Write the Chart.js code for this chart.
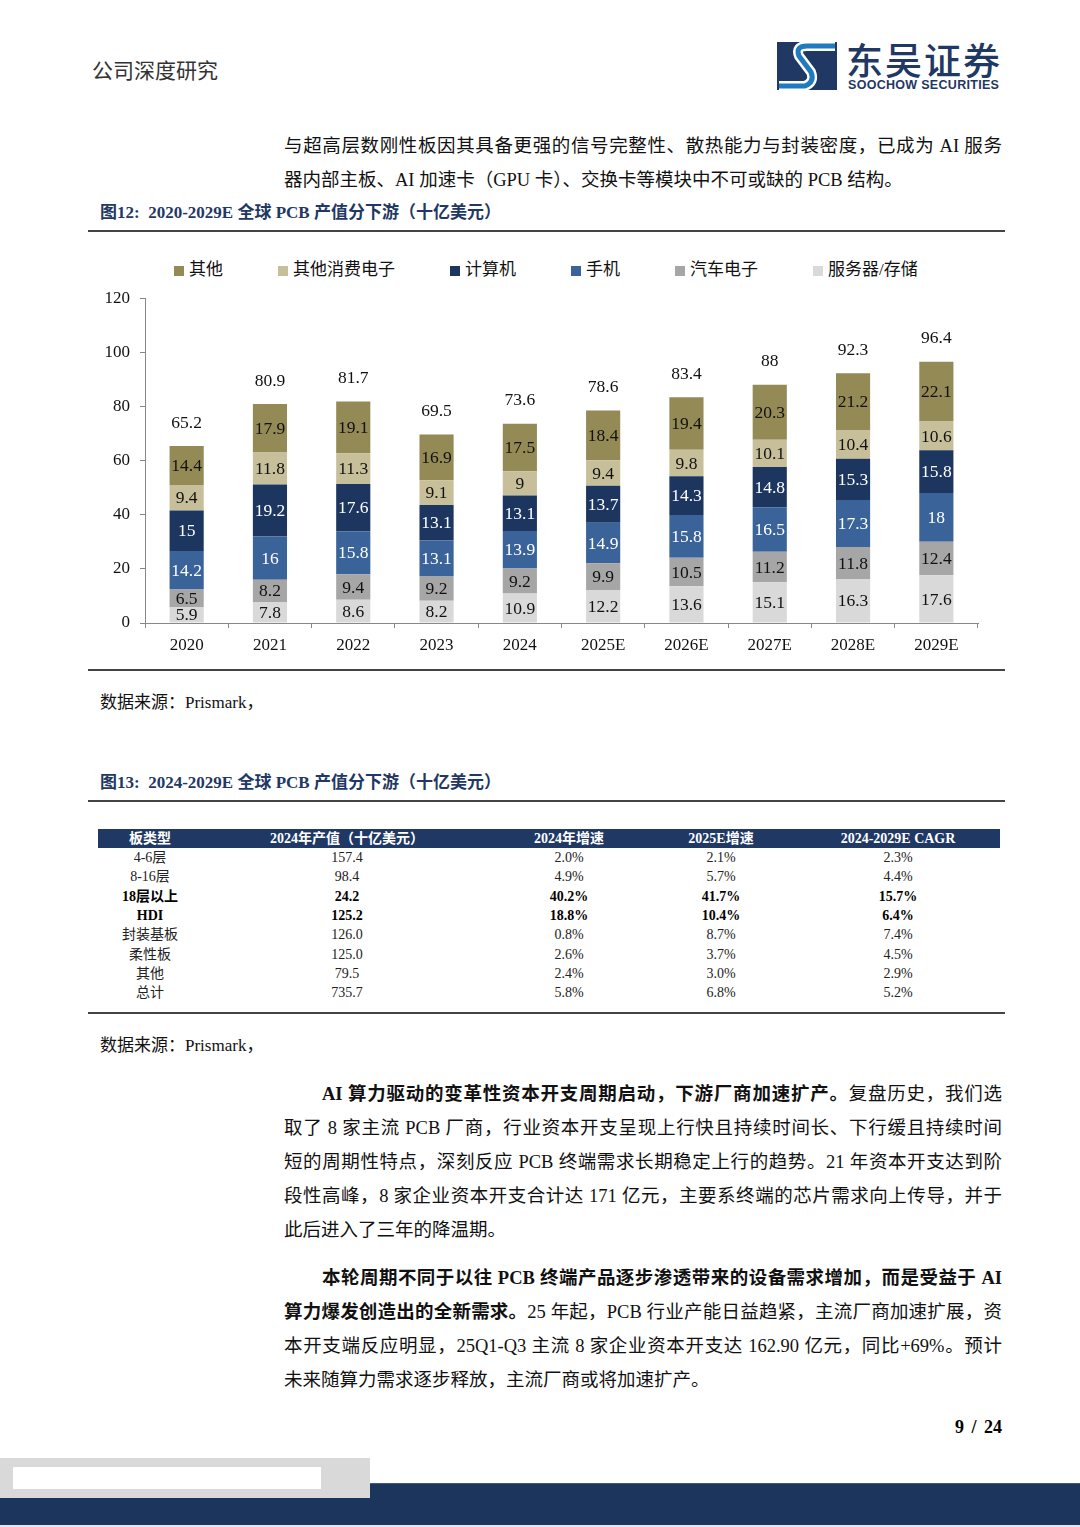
<!DOCTYPE html>
<html lang="zh-CN">
<head>
<meta charset="utf-8">
<title>图12: 2020-2029E 全球 PCB 产值分下游</title>
<script src="https://cdn.jsdelivr.net/npm/chart.js@4.4.1/dist/chart.umd.min.js"></script>
<style>
  html, body { margin: 0; padding: 0; background: #fff; }
  body { width: 1080px; height: 1527px; position: relative; overflow: hidden;
         font-family: "Liberation Serif", "Noto Sans CJK SC", serif; color: #000; }
  .abs { position: absolute; }
  .hdr { left: 92px; top: 57px; font-size: 21px; line-height: 28px; color: #333; }
  .para { left: 284px; width: 718px; font-size: 18.5px; color: #111; }
  .para div { height: 34px; line-height: 34px; text-align: justify; text-align-last: justify; }
  .para div.last { text-align-last: left; }
  .para div.ind { padding-left: 38px; }
  .figt { left: 100px; font-size: 17px; font-weight: bold; color: #1f3864; line-height: 24px; }
  .rule { left: 88px; width: 917px; height: 1.5px; background: #444; }
  .src { left: 100px; font-size: 17px; line-height: 24px; color: #111; }
  #legend { left: 174px; top: 258px; display: flex; gap: 55px; font-size: 17px; line-height: 24px; color: #111; }
  #legend span.box { display: inline-block; width: 10px; height: 10px; margin-right: 5px; vertical-align: -1px; }
  #chartBox { left: 88px; top: 278px; width: 917px; height: 386px; }
  table { border-collapse: collapse; table-layout: fixed; font-size: 14px; }
  #tbl { left: 98px; top: 829px; width: 902px; }
  #tbl th { background: #1f3864; color: #fff; height: 19px; padding: 0; font-weight: bold; line-height: 19px; }
  #tbl td { height: 19.3px; padding: 0; text-align: center; line-height: 19px; color: #222; }
  #tbl tr.b td { font-weight: bold; color: #000; }
  .pg { right: 78px; top: 1415px; font-size: 18px; font-weight: bold; line-height: 24px; word-spacing: 3px; }
</style>
</head>
<body>

<!-- 页眉 -->
<div class="abs hdr">公司深度研究</div>
<svg class="abs" style="left:777px;top:42px" width="60" height="48" viewBox="0 0 60 48">
  <rect x="0" y="0" width="60" height="48" fill="#1f3864"/>
  <path d="M58 4 L30 4 Q18 4 22 14 L34 30 Q38 40 28 44 L2 44" fill="none" stroke="#fff" stroke-width="10"/>
  <path d="M58 4 L30 4 Q18 4 22 14 L34 30 Q38 40 28 44 L2 44" fill="none" stroke="#1f7ac0" stroke-width="5"/>
</svg>
<div class="abs" style="left:846px;top:38px;font-family:'Noto Sans CJK SC';font-size:37px;line-height:42px;color:#1f3864;font-weight:500;letter-spacing:2px">东吴证券</div>
<div class="abs" style="left:848px;top:77px;font-family:'Liberation Sans';font-size:12.5px;line-height:16px;font-weight:bold;color:#1f3864;letter-spacing:0.3px">SOOCHOW SECURITIES</div>

<!-- 正文(上) -->
<div class="abs para" style="top:129px">
  <div>与超高层数刚性板因其具备更强的信号完整性、散热能力与封装密度，已成为 AI 服务</div>
  <div class="last">器内部主板、AI 加速卡（GPU 卡）、交换卡等模块中不可或缺的 PCB 结构。</div>
</div>

<!-- 图12 -->
<div class="abs figt" style="top:201px">图12:&nbsp; 2020-2029E 全球 PCB 产值分下游（十亿美元）</div>
<div class="abs rule" style="top:230px"></div>
<div class="abs" id="legend"></div>
<div class="abs" id="chartBox"><canvas id="grafico"></canvas></div>
<div class="abs rule" style="top:669px"></div>
<div class="abs src" style="top:691px">数据来源：Prismark，</div>

<!-- 图13 -->
<div class="abs figt" style="top:771px">图13:&nbsp; 2024-2029E 全球 PCB 产值分下游（十亿美元）</div>
<div class="abs rule" style="top:800px"></div>
<table class="abs" id="tbl">
  <colgroup><col style="width:104px"><col style="width:290px"><col style="width:154px"><col style="width:150px"><col style="width:204px"></colgroup>
  <thead><tr><th>板类型</th><th>2024年产值（十亿美元）</th><th>2024年增速</th><th>2025E增速</th><th>2024-2029E CAGR</th></tr></thead>
  <tbody id="tbody"></tbody>
</table>
<div class="abs rule" style="top:1012px"></div>
<div class="abs src" style="top:1034px">数据来源：Prismark，</div>

<!-- 正文(下) -->
<div class="abs para" style="top:1077px">
  <div class="ind"><b>AI 算力驱动的变革性资本开支周期启动，下游厂商加速扩产。</b>复盘历史，我们选</div>
  <div>取了 8 家主流 PCB 厂商，行业资本开支呈现上行快且持续时间长、下行缓且持续时间</div>
  <div>短的周期性特点，深刻反应 PCB 终端需求长期稳定上行的趋势。21 年资本开支达到阶</div>
  <div>段性高峰，8 家企业资本开支合计达 171 亿元，主要系终端的芯片需求向上传导，并于</div>
  <div class="last">此后进入了三年的降温期。</div>
</div>
<div class="abs para" style="top:1261px">
  <div class="ind"><b>本轮周期不同于以往 PCB 终端产品逐步渗透带来的设备需求增加，而是受益于 AI</b></div>
  <div><b>算力爆发创造出的全新需求。</b>25 年起，PCB 行业产能日益趋紧，主流厂商加速扩展，资</div>
  <div>本开支端反应明显，25Q1-Q3 主流 8 家企业资本开支达 162.90 亿元，同比+69%。预计</div>
  <div class="last">未来随算力需求逐步释放，主流厂商或将加速扩产。</div>
</div>

<div class="abs pg">9 / 24</div>

<!-- 页脚 -->
<div class="abs" style="left:0;top:1483px;width:1080px;height:42px;background:#1b355d;border-top:1px solid #3b5d8a"></div>
<div class="abs" style="left:0;top:1525px;width:1080px;height:2px;background:#dce7f1"></div>
<div class="abs" style="left:0;top:1458px;width:370px;height:40px;background:#d9d9d9"></div>
<div class="abs" style="left:13px;top:1467px;width:308px;height:22px;background:#fff"></div>

<script>
// ================= 数据 =================
const anos = ['2020', '2021', '2022', '2023', '2024', '2025E', '2026E', '2027E', '2028E', '2029E'];

const servidor   = [5.9, 7.8, 8.6, 8.2, 10.9, 12.2, 13.6, 15.1, 16.3, 17.6];
const automovel  = [6.5, 8.2, 9.4, 9.2, 9.2, 9.9, 10.5, 11.2, 11.8, 12.4];
const telemovel  = [14.2, 16, 15.8, 13.1, 13.9, 14.9, 15.8, 16.5, 17.3, 18];
const computador = [15, 19.2, 17.6, 13.1, 13.1, 13.7, 14.3, 14.8, 15.3, 15.8];
const outrosCons = [9.4, 11.8, 11.3, 9.1, 9, 9.4, 9.8, 10.1, 10.4, 10.6];
const outros     = [14.4, 17.9, 19.1, 16.9, 17.5, 18.4, 19.4, 20.3, 21.2, 22.1];
const totais     = [65.2, 80.9, 81.7, 69.5, 73.6, 78.6, 83.4, 88, 92.3, 96.4];

// 由下往上堆叠
const nomes   = ['服务器/存储', '汽车电子', '手机', '计算机', '其他消费电子', '其他'];
const series  = [servidor, automovel, telemovel, computador, outrosCons, outros];
const cores   = ['#d9d9d9', '#a6a6a6', '#3a6399', '#1c365f', '#c6bf9a', '#948a55'];
const corTexto = ['#111', '#111', '#fff', '#fff', '#111', '#111'];

const yMin = 0, yMax = 120, yStep = 20;

// 表格数据
const tabTipos  = ['4-6层', '8-16层', '18层以上', 'HDI', '封装基板', '柔性板', '其他', '总计'];
const tabValor  = ['157.4', '98.4', '24.2', '125.2', '126.0', '125.0', '79.5', '735.7'];
const tabCresc24 = ['2.0%', '4.9%', '40.2%', '18.8%', '0.8%', '2.6%', '2.4%', '5.8%'];
const tabCresc25 = ['2.1%', '5.7%', '41.7%', '10.4%', '8.7%', '3.7%', '3.0%', '6.8%'];
const tabCagr   = ['2.3%', '4.4%', '15.7%', '6.4%', '7.4%', '4.5%', '2.9%', '5.2%'];
const tabNegrito = ['18层以上', 'HDI'];

// ================= 表格 =================
const tbody = document.getElementById('tbody');
tabTipos.forEach((t, i) => {
  const tr = document.createElement('tr');
  if (tabNegrito.includes(t)) tr.className = 'b';
  [t, tabValor[i], tabCresc24[i], tabCresc25[i], tabCagr[i]].forEach(v => {
    const td = document.createElement('td');
    td.textContent = v;
    tr.appendChild(td);
  });
  tbody.appendChild(tr);
});

// ================= 图例 (其他 在前) =================
const legend = document.getElementById('legend');
for (let i = nomes.length - 1; i >= 0; i--) {
  const item = document.createElement('div');
  item.innerHTML = `<span class="box" style="background:${cores[i]}"></span>${nomes[i]}`;
  legend.appendChild(item);
}

// ================= 数值标签 =================
const rotulos = {
  id: 'rotulos',
  afterDatasetsDraw(chart) {
    const ctx = chart.ctx;
    ctx.save();
    ctx.font = '17.5px "Liberation Serif"';
    ctx.textAlign = 'center';
    ctx.textBaseline = 'middle';
    chart.data.datasets.forEach((ds, i) => {
      chart.getDatasetMeta(i).data.forEach((bar, j) => {
        const p = bar.getProps(['x', 'y', 'base'], true);
        ctx.fillStyle = corTexto[i];
        ctx.fillText(String(ds.data[j]), p.x, (p.y + p.base) / 2 + 1);
      });
    });
    const topo = chart.getDatasetMeta(chart.data.datasets.length - 1);
    ctx.fillStyle = '#111';
    topo.data.forEach((bar, j) => {
      ctx.fillText(String(totais[j]), bar.x, bar.y - 23);
    });
    ctx.restore();
  }
};

// ================= 图表 =================
new Chart(document.getElementById('grafico'), {
  type: 'bar',
  data: {
    labels: anos,
    datasets: series.map((d, i) => ({
      label: nomes[i],
      data: d,
      backgroundColor: cores[i],
      borderWidth: 0,
      categoryPercentage: 1,
      barPercentage: 0.41
    }))
  },
  options: {
    responsive: true,
    maintainAspectRatio: false,
    animation: false,
    layout: { padding: { top: 5, right: 27, bottom: 0, left: 0 } },
    plugins: { legend: { display: false }, tooltip: { enabled: false } },
    scales: {
      x: {
        stacked: true,
        afterFit: s => { s.height = 41; },
        grid: { drawOnChartArea: false, tickLength: 5, color: '#888' },
        border: { color: '#888' },
        ticks: { color: '#111', padding: 7, font: { family: 'Liberation Serif', size: 17 } }
      },
      y: {
        stacked: true,
        min: yMin,
        max: yMax,
        afterFit: s => { s.width = 57; },
        grid: { drawOnChartArea: false, tickLength: 5, color: '#888' },
        border: { color: '#888' },
        ticks: { stepSize: yStep, color: '#111', padding: 10, font: { family: 'Liberation Serif', size: 17 } }
      }
    }
  },
  plugins: [rotulos]
});
</script>
</body>
</html>
